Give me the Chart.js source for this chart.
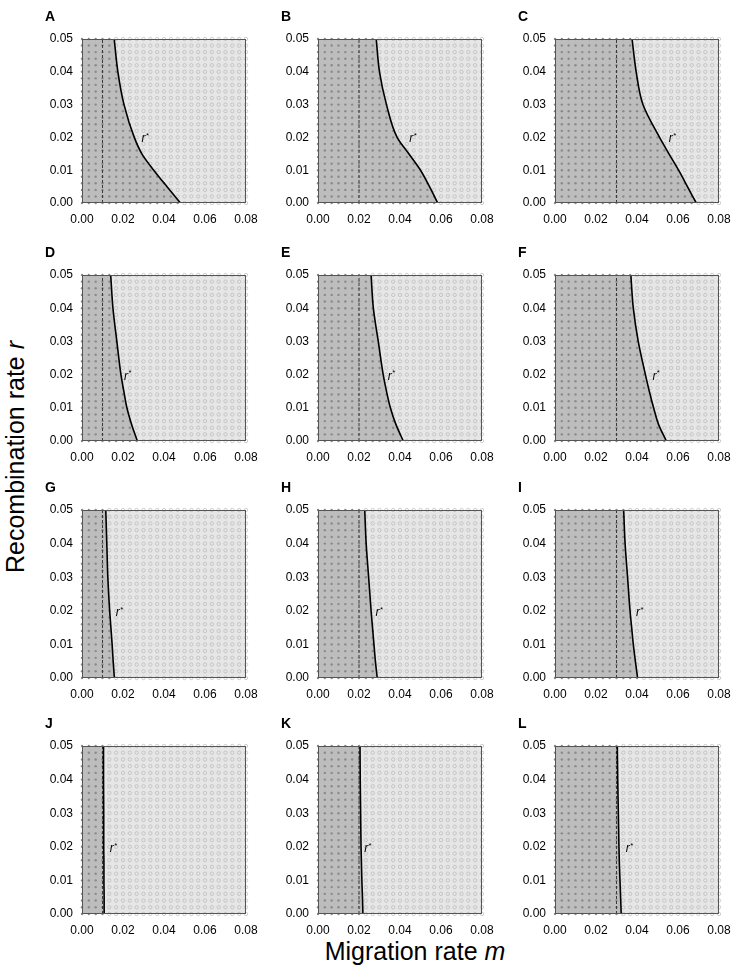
<!DOCTYPE html>
<html>
<head>
<meta charset="utf-8">
<script src="https://cdn.jsdelivr.net/npm/chart.js@4.4.1/dist/chart.umd.min.js"></script>
<style>
  body { margin: 0; background: #fff; width: 751px; height: 968px; position: relative; overflow: hidden;
         font-family: 'Liberation Sans', Arial, sans-serif; }
  .panel { position: absolute; }
  #ytitle { position: absolute; left: 15px; top: 457px; transform: translate(-50%, -50%) rotate(-90deg);
            font-size: 25px; white-space: nowrap; }
  #xtitle { position: absolute; left: 415px; top: 951px; transform: translate(-50%, -50%);
            font-size: 25px; white-space: nowrap; }
</style>
</head>
<body>
<div id="ytitle">Recombination rate <i>r</i></div>
<div id="xtitle">Migration rate <i>m</i></div>
<script>
// panel letters, row by row
const letters = ['A', 'B', 'C', 'D', 'E', 'F', 'G', 'H', 'I', 'J', 'K', 'L'];

// dashed vertical line (m) for each panel
const dashedM = [0.01, 0.02, 0.03, 0.01, 0.02, 0.03, 0.01, 0.02, 0.03, 0.01, 0.02, 0.03];

// r values where the r* curve was read
const curveR = [0, 0.005, 0.01, 0.015, 0.02, 0.03, 0.04, 0.05];

// m of the r* curve at each curveR, per panel
const curveA = [0.0480, 0.0414, 0.0350, 0.0292, 0.0255, 0.0205, 0.0175, 0.0157];
const curveB = [0.0584, 0.0544, 0.0500, 0.0443, 0.0386, 0.0334, 0.0300, 0.0284];
const curveC = [0.0689, 0.0646, 0.0603, 0.0556, 0.0510, 0.0429, 0.0396, 0.0376];
const curveD = [0.0270, 0.0242, 0.0219, 0.0204, 0.0190, 0.0170, 0.0151, 0.0140];
const curveE = [0.0416, 0.0380, 0.0353, 0.0334, 0.0318, 0.0294, 0.0270, 0.0259];
const curveF = [0.0543, 0.0505, 0.0481, 0.0460, 0.0441, 0.0406, 0.0382, 0.0370];
const curveG = [0.0158, 0.0152, 0.0147, 0.0141, 0.0135, 0.0126, 0.0121, 0.0116];
const curveH = [0.0289, 0.0280, 0.0273, 0.0266, 0.0259, 0.0247, 0.0235, 0.0228];
const curveI = [0.0403, 0.0392, 0.0382, 0.0374, 0.0366, 0.0354, 0.0342, 0.0335];
const curveJ = [0.0108, 0.0108, 0.0107, 0.0107, 0.0106, 0.0106, 0.0105, 0.0105];
const curveK = [0.0219, 0.0217, 0.0214, 0.0212, 0.0210, 0.0208, 0.0206, 0.0205];
const curveL = [0.0323, 0.0320, 0.0317, 0.0314, 0.0312, 0.0309, 0.0306, 0.0304];
const curves = [curveA, curveB, curveC, curveD, curveE, curveF, curveG, curveH, curveI, curveJ, curveK, curveL];

// where the r* label sits (m, r)
const labelM = [0.029, 0.0445, 0.0555, 0.0205, 0.034, 0.0475, 0.0165, 0.028, 0.0395, 0.0135, 0.0225, 0.0345];
const labelR = [0.0195, 0.0195, 0.0195, 0.0195, 0.0195, 0.0195, 0.0195, 0.0195, 0.0195, 0.0195, 0.0195, 0.0195];

// simulation grid
const gridM = [0, 0.00333, 0.00667, 0.01, 0.01333, 0.01667, 0.02, 0.02333, 0.02667, 0.03, 0.03333, 0.03667,
  0.04, 0.04333, 0.04667, 0.05, 0.05333, 0.05667, 0.06, 0.06333, 0.06667, 0.07, 0.07333, 0.07667, 0.08];
const gridR = [0, 0.002, 0.004, 0.006, 0.008, 0.01, 0.012, 0.014, 0.016, 0.018, 0.02, 0.022, 0.024,
  0.026, 0.028, 0.03, 0.032, 0.034, 0.036, 0.038, 0.04, 0.042, 0.044, 0.046, 0.048, 0.05];

// layout of the plot areas
const plotLeft = [82, 318, 555];
const plotTop = [39, 275, 510, 746];
const plotH = [164, 166, 168, 168];
const plotW = 164;
const padTop = 30, padRight = 22, yAxisW = 50, xAxisH = 22;

function mAt(curve, r) {
  for (let i = 1; i < curveR.length; i++) {
    if (r <= curveR[i]) {
      const t = (r - curveR[i - 1]) / (curveR[i] - curveR[i - 1]);
      return curve[i - 1] + t * (curve[i] - curve[i - 1]);
    }
  }
  return curve[curve.length - 1];
}

const framePlugin = {
  id: 'frame',
  afterDatasetsDraw(chart) {
    const a = chart.chartArea, ctx = chart.ctx;
    ctx.save();
    ctx.strokeStyle = '#555';
    ctx.lineWidth = 1;
    ctx.strokeRect(a.left + 0.5, a.top + 0.5, a.width - 1, a.height - 1);
    ctx.restore();
  },
  afterDraw(chart) {
    const o = chart.options.plugins.frame;
    const ctx = chart.ctx, a = chart.chartArea;
    const x = chart.scales.x.getPixelForValue(o.lm);
    const y = chart.scales.y.getPixelForValue(o.lr);
    ctx.save();
    ctx.fillStyle = '#000';
    ctx.textBaseline = 'middle';
    ctx.font = 'italic 12px "Liberation Sans", Arial, sans-serif';
    ctx.fillText('r', x, y);
    const w = ctx.measureText('r').width;
    ctx.font = '8px "Liberation Sans", Arial, sans-serif';
    ctx.fillText('*', x + w + 0.5, y - 3);
    ctx.font = 'bold 14px "Liberation Sans", Arial, sans-serif';
    ctx.textBaseline = 'alphabetic';
    ctx.fillText(o.letter, a.left - 37, a.top - 18);
    ctx.restore();
  }
};

const tickFont = { family: "'Liberation Sans', Arial, sans-serif", size: 12 };

for (let p = 0; p < 12; p++) {
  const row = Math.floor(p / 3), col = p % 3;
  const div = document.createElement('div');
  div.className = 'panel';
  div.style.left = (plotLeft[col] - yAxisW) + 'px';
  div.style.top = (plotTop[row] - padTop) + 'px';
  div.style.width = (plotW + yAxisW + padRight) + 'px';
  div.style.height = (plotH[row] + padTop + xAxisH) + 'px';
  const cv = document.createElement('canvas');
  div.appendChild(cv);
  document.body.appendChild(div);

  const curve = curves[p];
  const line = curveR.map((r, i) => ({ x: curve[i], y: r }));
  const dark = [], light = [];
  gridR.forEach(r => {
    const edge = mAt(curve, r);
    gridM.forEach(m => {
      (m < edge ? dark : light).push({ x: m, y: r });
    });
  });

  new Chart(cv, {
    type: 'line',
    data: {
      datasets: [
        { data: line, borderColor: '#000', borderWidth: 1.6, pointRadius: 0, fill: false,
          cubicInterpolationMode: 'monotone', order: 0 },
        { data: [{ x: dashedM[p], y: 0 }, { x: dashedM[p], y: 0.05 }], borderColor: '#3a3a3a',
          borderWidth: 1, borderDash: [3, 2], pointRadius: 0, fill: false, order: 1 },
        { data: dark, showLine: false, pointRadius: 1.2, pointBackgroundColor: '#8a8a8a',
          pointBorderWidth: 0, clip: false, order: 2 },
        { data: light, showLine: false, pointRadius: 1.7, pointBackgroundColor: 'rgba(0,0,0,0)',
          pointBorderColor: '#b0b0b0', pointBorderWidth: 0.6, clip: false, order: 3 },
        { data: line, borderWidth: 0, pointRadius: 0, fill: { value: 0 }, backgroundColor: '#bdbdbd',
          cubicInterpolationMode: 'monotone', order: 4 },
        { data: line, borderWidth: 0, pointRadius: 0, fill: { value: 0.08 }, backgroundColor: '#e6e6e6',
          cubicInterpolationMode: 'monotone', order: 5 }
      ]
    },
    options: {
      indexAxis: 'y',
      responsive: true,
      maintainAspectRatio: false,
      animation: false,
      events: [],
      layout: { padding: { top: padTop, right: padRight, left: 0, bottom: 0 } },
      plugins: {
        legend: { display: false },
        tooltip: { enabled: false },
        frame: { letter: letters[p], lm: labelM[p], lr: labelR[p] }
      },
      scales: {
        x: {
          type: 'linear', min: 0, max: 0.08,
          grid: { display: false }, border: { display: false },
          ticks: { stepSize: 0.02, autoSkip: false, maxRotation: 0, padding: 1, color: '#000', font: tickFont,
                   callback: v => v.toFixed(2) },
          afterFit: s => { s.height = xAxisH; s.paddingLeft = 0; s.paddingRight = 0; }
        },
        y: {
          type: 'linear', min: 0, max: 0.05,
          grid: { display: false }, border: { display: false },
          ticks: { stepSize: 0.01, autoSkip: false, padding: 1, color: '#000', font: tickFont,
                   callback: v => v.toFixed(2) },
          afterFit: s => { s.width = yAxisW; s.paddingTop = 0; s.paddingBottom = 0; }
        }
      }
    },
    plugins: [framePlugin]
  });
}
</script>
</body>
</html>
